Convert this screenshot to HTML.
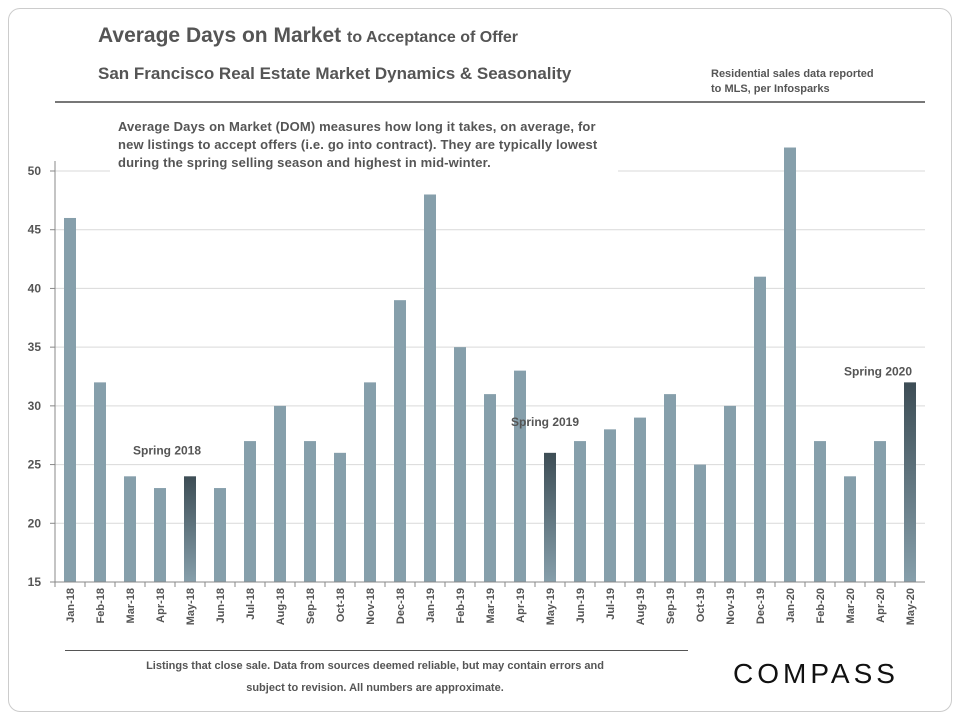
<!DOCTYPE html>
<html><head><meta charset="utf-8"><style>
body{margin:0;width:960px;height:720px;background:#fff;font-family:"Liberation Sans",sans-serif;overflow:hidden}
.card{position:absolute;left:8px;top:8px;width:942px;height:702px;border:1px solid #ccc;border-radius:12px}
.t{position:absolute;color:#555;font-weight:bold}
</style></head><body>
<div class="card"></div>
<div class="t" style="left:98px;top:24px;font-size:21px">Average Days on Market <span style="font-size:16px">to Acceptance of Offer</span></div>
<div class="t" style="left:98px;top:64px;font-size:17px">San Francisco Real Estate Market Dynamics &amp; Seasonality</div>
<div class="t" style="left:711px;top:67px;font-size:11px;line-height:15px">Residential sales data reported<br>to MLS, per Infosparks</div>
<div style="position:absolute;left:55px;top:101px;width:870px;height:2px;background:#777"></div>
<svg id="c" width="960" height="720" style="position:absolute;left:0;top:0">
<defs><linearGradient id="hg" x1="0" y1="0" x2="0" y2="1"><stop offset="0" stop-color="#3d4d55"/><stop offset="1" stop-color="#869fab"/></linearGradient></defs>
</svg>
<div class="t" style="left:110px;top:118px;width:500px;background:#fff;font-size:13px;line-height:18px;padding:0 0 4px 8px;letter-spacing:0.15px">Average Days on Market (DOM) measures how long it takes, on average, for new listings to accept offers (i.e. go into contract). They are typically lowest during the spring selling season and highest in mid-winter.</div>
<div style="position:absolute;left:65px;top:650px;width:623px;height:1px;background:#555"></div>
<div class="t" style="left:130px;top:655px;width:490px;text-align:center;font-size:11px;line-height:22px">Listings that close sale. Data from sources deemed reliable, but may contain errors and subject to revision. All numbers are approximate.</div>
<div style="position:absolute;left:733px;top:658px;font-size:28px;letter-spacing:4px;color:#111">COMPASS</div>
<script>
const categories=["Jan-18","Feb-18","Mar-18","Apr-18","May-18","Jun-18","Jul-18","Aug-18","Sep-18","Oct-18","Nov-18","Dec-18","Jan-19","Feb-19","Mar-19","Apr-19","May-19","Jun-19","Jul-19","Aug-19","Sep-19","Oct-19","Nov-19","Dec-19","Jan-20","Feb-20","Mar-20","Apr-20","May-20"];
const values=[46,32,24,23,24,23,27,30,27,26,32,39,48,35,31,33,26,27,28,29,31,25,30,41,52,27,24,27,32];
const highlighted=["May-18","May-19","May-20"];
const yTicks=[15,20,25,30,35,40,45,50];
const annotations=[["May-18","Spring 2018"],["May-19","Spring 2019"],["May-20","Spring 2020"]];
const annotationOffsets={"May-18":[-23,-22],"May-19":[-5,-27],"May-20":[-32,-7]};
const svg=document.getElementById('c');const NS='http://www.w3.org/2000/svg';
const x0=55,x1=925,y0=582,yMin=15,yMax=50,yTop=171;
const bw=(x1-x0)/categories.length;
const y=v=>y0-(v-yMin)*(y0-yTop)/(yMax-yMin);
const xc=i=>x0+bw*(i+0.5);
function mk(t,a){const e=document.createElementNS(NS,t);for(const k in a)e.setAttribute(k,a[k]);svg.appendChild(e);return e;}
yTicks.forEach(t=>{
 if(t>yMin){const g=mk('line',{x1:x0,x2:x1,y1:y(t),y2:y(t),stroke:'#d9d9d9'});
 
 }
 const l=mk('text',{x:x0-14,y:y(t)+4,'text-anchor':'end','font-size':12,'font-weight':'bold',fill:'#555','font-family':'Liberation Sans'});l.textContent=t;
 
 
 const tk=mk('line',{x1:x0-5,x2:x0,y1:y(t),y2:y(t),stroke:'#888'});
 
 
});
categories.forEach((c,i)=>{
 const h=highlighted.includes(c);
 const r=mk('rect',{x:xc(i)-6,y:y(values[i]),width:12,height:y0-y(values[i]),fill:h?'url(#hg)':'#869fab'});
 
 
 const tk=mk('line',{x1:x0+bw*i,x2:x0+bw*i,y1:y0,y2:y0+5,stroke:'#888'});
 
 
 const l=mk('text',{x:0,y:0,'text-anchor':'end','font-size':11,'font-weight':'bold',fill:'#555','font-family':'Liberation Sans',transform:`translate(${xc(i)+4},588) rotate(-90)`});l.textContent=c;
 
 
});
const ax=mk('line',{x1:x0,x2:x0,y1:yTop-10,y2:y0,stroke:'#888'});


const bx=mk('line',{x1:x0,x2:x1,y1:y0,y2:y0,stroke:'#888'});


annotations.forEach(([c,t])=>{const i=categories.indexOf(c);const o=annotationOffsets[c];
 const l=mk('text',{x:xc(i)+o[0],y:y(values[i])+o[1],'text-anchor':'middle','font-size':12,'font-weight':'bold',fill:'#555','font-family':'Liberation Sans'});l.textContent=t;
 
 
});
</script>
</body></html>
